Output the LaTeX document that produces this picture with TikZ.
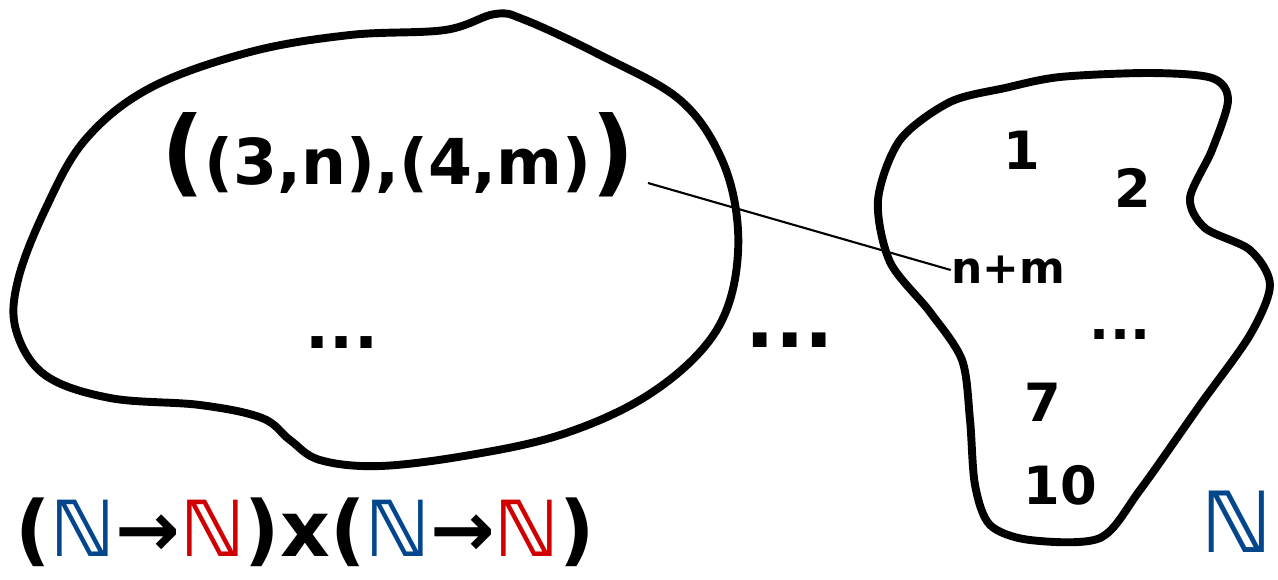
\documentclass[tikz,border=0pt]{standalone}
\usepackage{fontspec}
\setmainfont{DejaVu Sans}
\usepackage{xcolor}
\usetikzlibrary{positioning, calc}
\definecolor{natblue}{RGB}{4,70,140}
\definecolor{natred}{RGB}{208,0,0}

\begin{document}
\begin{tikzpicture}[x=0.02cm, y=-0.02cm]
    \tikzset{
        blob/.style={line width=4.5pt, line join=round, line cap=round},
        hand/.style={font=\bfseries\fontsize{36}{36}\selectfont, inner sep=0pt},
        small hand/.style={font=\bfseries\fontsize{30}{30}\selectfont, inner sep=0pt},
        big hand/.style={font=\bfseries\fontsize{44}{44}\selectfont, inner sep=0pt},
        nat blue/.style={text=natblue},
        nat red/.style={text=natred}
    }
    \useasboundingbox (0,0) rectangle (1278,579);

    % left set: pairs of functions
    \draw[blob] plot[smooth cycle, tension=0.6] coordinates {
        (445,30) (495,14) (525,20) (600,55) (680,100) (722,160) (738,230)
        (730,300) (700,352) (640,400) (560,435) (470,455) (380,466) (320,460)
        (290,440) (262,418) (200,405) (110,398) (45,375) (16,330) (18,280)
        (45,210) (85,140) (150,88) (250,52) (350,35)};

    % right set: naturals
    \draw[blob] plot[smooth cycle, tension=0.5] coordinates {
        (1005,88) (950,102) (900,140) (878,200) (890,262) (930,312) (962,360)
        (970,420) (975,485) (990,525) (1030,540) (1100,538) (1140,490)
        (1200,405) (1250,335) (1270,285) (1250,250) (1205,228) (1190,198)
        (1212,150) (1228,100) (1212,78) (1150,73) (1060,77)};

    \node[hand] (pair) at (398,155) {{\fontsize{54}{54}\selectfont(}(3,n),(4,m){\fontsize{54}{54}\selectfont)}};
    \node[hand] (ldots) at (342,343) {...};
    \node[hand, font=\bfseries\fontsize{44}{44}\selectfont] (mdots) at (790,340) {...};

    \node[small hand] (one) at (1022,150) {1};
    \node[small hand] (two) at (1133,188) {2};
    \node[small hand, font=\bfseries\fontsize{25}{25}\selectfont] (nm) at (1008,270) {n+m};
    \node[small hand] (rdots) at (1120,335) {...};
    \node[small hand] (seven) at (1043,402) {7};
    \node[small hand] (ten) at (1060,485) {10};

    \coordinate (pairend) at (648,183);
    \draw[line width=1.2pt] (pairend) -- (nm.west);

    \node[big hand, anchor=west] (fns) at (15,532) {(\textcolor{natblue}{ℕ}→\textcolor{natred}{ℕ})x(\textcolor{natblue}{ℕ}→\textcolor{natred}{ℕ})};
    \node[big hand, nat blue, anchor=east, font=\bfseries\fontsize{48}{48}\selectfont] (nat) at (1272,522) {ℕ};
\end{tikzpicture}
\end{document}
